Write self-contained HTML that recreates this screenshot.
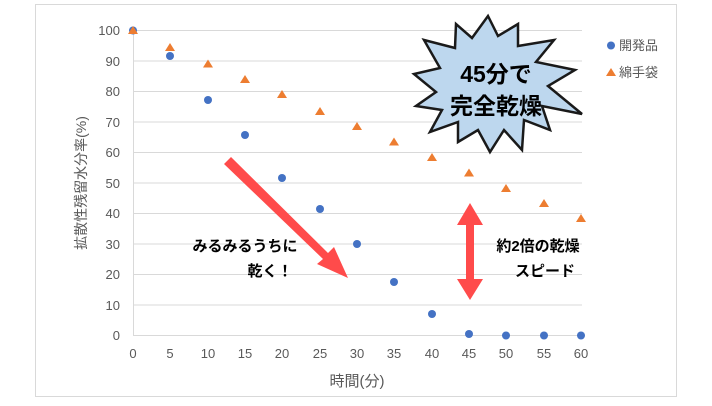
<!DOCTYPE html><html><head><meta charset="utf-8"><style>body{margin:0;background:#fff}</style></head><body>
<svg width="712" height="401" viewBox="0 0 712 401" xmlns="http://www.w3.org/2000/svg" font-family="Liberation Sans, Noto Sans CJK JP, sans-serif">
<rect x="35.5" y="4.5" width="641" height="392" fill="#fff" stroke="#d9d9d9"/>
<g stroke="#d9d9d9" stroke-width="1">
<line x1="133" x2="582" y1="30.5" y2="30.5"/><line x1="133" x2="582" y1="61" y2="61"/><line x1="133" x2="582" y1="91.5" y2="91.5"/><line x1="133" x2="582" y1="122" y2="122"/><line x1="133" x2="582" y1="152.5" y2="152.5"/><line x1="133" x2="582" y1="183" y2="183"/><line x1="133" x2="582" y1="213.5" y2="213.5"/><line x1="133" x2="582" y1="244" y2="244"/><line x1="133" x2="582" y1="274.5" y2="274.5"/><line x1="133" x2="582" y1="305" y2="305"/><line x1="133" x2="582" y1="335.5" y2="335.5"/>
<line x1="133.5" x2="133.5" y1="30" y2="336"/>
</g>
<g fill="#595959" font-size="13" text-anchor="end">
<text x="120" y="35">100</text><text x="120" y="66">90</text><text x="120" y="96">80</text><text x="120" y="127">70</text><text x="120" y="157">60</text><text x="120" y="188">50</text><text x="120" y="218">40</text><text x="120" y="249">30</text><text x="120" y="279">20</text><text x="120" y="310">10</text><text x="120" y="340">0</text>
</g>
<g fill="#595959" font-size="13" text-anchor="middle">
<text x="133" y="358">0</text><text x="170" y="358">5</text><text x="208" y="358">10</text><text x="245" y="358">15</text><text x="282" y="358">20</text><text x="320" y="358">25</text><text x="357" y="358">30</text><text x="394" y="358">35</text><text x="432" y="358">40</text><text x="469" y="358">45</text><text x="506" y="358">50</text><text x="544" y="358">55</text><text x="581" y="358">60</text>
<text x="357" y="386" font-size="15">時間(分)</text>
<text transform="translate(86,183) rotate(-90)" font-size="14">拡散性残留水分率(%)</text>
</g>
<g fill="#4472c4">
<circle cx="133" cy="30.5" r="4"/><circle cx="170" cy="56" r="4"/><circle cx="208" cy="100" r="4"/><circle cx="245" cy="135" r="4"/><circle cx="282" cy="178" r="4"/><circle cx="320" cy="209" r="4"/><circle cx="357" cy="244" r="4"/><circle cx="394" cy="282" r="4"/><circle cx="432" cy="314" r="4"/><circle cx="469" cy="334" r="4"/><circle cx="506" cy="335.5" r="4"/><circle cx="544" cy="335.5" r="4"/><circle cx="581" cy="335.5" r="4"/>
</g>
<g fill="#ed7d31">
<path d="M133 26l5 8h-10z"/><path d="M170 43l5 8h-10z"/><path d="M208 59.5l5 8h-10z"/><path d="M245 75l5 8h-10z"/><path d="M282 90l5 8h-10z"/><path d="M320 107l5 8h-10z"/><path d="M357 122l5 8h-10z"/><path d="M394 137.5l5 8h-10z"/><path d="M432 153l5 8h-10z"/><path d="M469 168.5l5 8h-10z"/><path d="M506 184l5 8h-10z"/><path d="M544 199l5 8h-10z"/><path d="M581 214l5 8h-10z"/>
</g>
<circle cx="611" cy="45.5" r="4" fill="#4472c4"/><text x="619" y="50" font-size="13" fill="#595959">開発品</text>
<path d="M611 68l5 8h-10z" fill="#ed7d31"/><text x="619" y="77" font-size="13" fill="#595959">綿手袋</text>
<polygon fill="#bdd7ee" stroke="#1a1a1a" stroke-width="2.5" stroke-linejoin="miter" points="488,16 498,36 518,24 518,46 554,40 536,62 575,70 548,86 582,114 542,106 550,130 524,120 522,150 504,130 490,152 478,130 458,142 458,122 430,132 442,110 416,106 436,92 414,74 440,68 424,40 455,48 456,24 472,38"/>
<text x="496" y="82" font-size="23" font-weight="bold" text-anchor="middle" fill="#000">45分で</text>
<text x="496" y="114" font-size="23" font-weight="bold" text-anchor="middle" fill="#000">完全乾燥</text>
<g fill="#ff4b4b">
<path d="M224 164 L231 157 L328 253 L334 247 L348 278 L317 264 L323 259 Z"/>
<path d="M470 203 L483 225 L474 225 L474 279 L483 279 L470 300 L457 279 L466 279 L466 225 L457 225 Z"/>
</g>
<g font-size="15" font-weight="bold" fill="#000" text-anchor="middle">
<text x="245" y="251">みるみるうちに</text><text x="270" y="276">乾く！</text>
<text x="538" y="251">約2倍の乾燥</text><text x="545" y="276">スピード</text>
</g>
</svg></body></html>
